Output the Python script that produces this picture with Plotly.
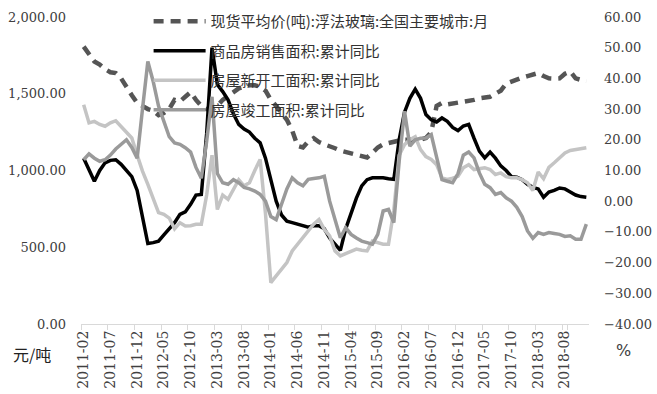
import plotly.graph_objects as go

# Monthly categories 2011-02 .. 2018-12
months = []
for y in range(2011, 2019):
    for m in range(1, 13):
        if y == 2011 and m == 1:
            continue
        months.append(f"{y}-{m:02d}")

tick_labels = months[::5]
left_ticks = [0, 500, 1000, 1500, 2000]
right_ticks = [-40, -30, -20, -10, 0, 10, 20, 30, 40, 50, 60]

# 现货平均价(吨):浮法玻璃:全国主要城市:月  (元/吨, left axis)
price = [1807, 1760, 1710, 1690, 1660, 1640, 1635, 1600, 1540, 1490,
         1440, 1420, 1400, 1390, 1360, 1375, 1400, 1460, 1450, 1480,
         1510, 1460, 1420, 1400, 1395, 1420, 1460, 1485, 1510, 1535,
         1545, 1555, 1555, 1545, 1520, 1460, 1420, 1370, 1330, 1260,
         1160, 1150, 1190, 1210, 1185, 1170, 1160, 1145, 1130, 1120,
         1115, 1105, 1095, 1085, 1115, 1150, 1170, 1180, 1185, 1195,
         1200, 1200, 1195, 1200, 1212, 1250, 1420, 1440, 1430, 1435,
         1440, 1445, 1450, 1460, 1470, 1475, 1480, 1500, 1520, 1565,
         1580, 1595, 1605, 1615, 1625, 1635, 1615, 1600, 1598, 1600,
         1630, 1645, 1600, 1590, 1580]

# 商品房销售面积:累计同比 (%)
sales = [14, 10, 6.5, 10, 12.5, 13.3, 13.5, 12, 10, 8,
         3.5, -5, -13.8, -13.5, -13, -11, -9, -7, -4.3, -3.5,
         -1, 2, 2.2, 22, 50, 38, 35.7, 33, 28.5, 25,
         23.5, 22.5, 20.5, 19, 14, 6.5, 0, -4.5, -6.5, -7,
         -7.5, -8, -8.5, -8, -8, -9, -12, -14, -16, -9,
         -4, 1, 5, 7, 7.6, 7.7, 7.6, 7.3, 7.1, 20,
         29, 33.5, 36.5, 33.5, 28.2, 26.5, 25.8, 27.1, 26, 24,
         23, 24.5, 25, 20.5, 16.3, 14.1, 16, 14, 11.5, 10,
         8, 7.8, 7, 5.5, 4.5, 4, 1.3, 3, 3.5, 4.3,
         4, 3, 2, 1.5, 1.3]

# 房屋新开工面积:累计同比 (%)
new_starts = [31.4, 25.5, 26, 25, 24.4, 25.5, 26.2, 24.4, 22.2, 20.6,
              15, 9.8, 5.5, 1, -3.7, -4.3, -5.5, -9, -7, -8.1,
              -8, -7.5, -7.5, 2, 15, -2.7, 2, 0.6, 3.8, 7,
              5, 6, 10, 13.6, -4, -26.5, -24.3, -22, -20, -16.2,
              -14, -12, -9.7, -7.5, -6, -9.2, -11.3, -16.2, -17.8, -17,
              -16.5, -15.6, -16, -16.2, -13, -13.5, -14, -14, -3, 15,
              18.4, 20, 21, 16.8, 14.5, 13.6, 11.9, 7.6, 7.1, 7.5,
              8.1, 10.9, 11.9, 10.3, 10.6, 10.9, 10.3, 8.7, 9.2, 8,
              7.6, 7.6, 7, 6, 3.5, 9.5, 7.3, 11, 12.5, 14.1,
              15.7, 16.5, 16.8, 17, 17.4]

# 房屋竣工面积:累计同比 (%)
completions = [13.5, 15.4, 14, 13, 13.5, 15, 17, 18.4, 20, 17.5,
               14, 30, 45.5, 39, 31, 26, 21, 19, 18.5, 17.4,
               16, 11, 7.5, 19.5, 34, 9, 6, 5.5, 7, 6,
               4.5, 4, 3.3, 2.2, 0, -5, -6, -1, 4, 7.6,
               6, 5, 7.1, 7.4, 7.6, 8.1, 0, -6, -11.9, -8.6,
               -10.8, -12, -13, -13.5, -14, -10.8, -3.2, -2.7, -7, 13,
               29.3, 17.9, 20, 20.5, 20.6, 21.7, 14.1, 7, 6.5, 6,
               9, 15, 16, 14.1, 9.2, 5.5, 4.4, 2.2, 2.8, 1.1,
               0, -2, -5, -9.7, -12.1, -10.2, -10.8, -10.2, -10.5, -10.8,
               -11.5, -11.3, -12.4, -12.4, -7.5]

names = ["现货平均价(吨):浮法玻璃:全国主要城市:月",
         "商品房销售面积:累计同比",
         "房屋新开工面积:累计同比",
         "房屋竣工面积:累计同比"]

fig = go.Figure()
fig.add_trace(go.Scatter(x=months, y=price, name=names[0], mode="lines",
                         line=dict(color="#555555", width=4.5, dash="10px,7px"),
                         legendgroup="a", yaxis="y"))
fig.add_trace(go.Scatter(x=months, y=sales, name=names[1], mode="lines",
                         line=dict(color="#000000", width=3.5),
                         legendgroup="b", yaxis="y2"))
fig.add_trace(go.Scatter(x=months, y=new_starts, name=names[2], mode="lines",
                         line=dict(color="#c4c4c4", width=3.5),
                         legendgroup="c", yaxis="y2"))
fig.add_trace(go.Scatter(x=months, y=completions, name=names[3], mode="lines",
                         line=dict(color="#9a9a9a", width=3.5),
                         legendgroup="d", yaxis="y2"))

tick_font = dict(family="DejaVu Serif", size=13, color="#404040")

# plot area extends 12px above the top tick (2000 / 60) so the legend sits inside it
TOP_T, BOT_B = 5, 69
inner_h = 394 - TOP_T - BOT_B          # 320
tick_span = inner_h - 12               # 308 px between bottom and top ticks
left_top = 2000 * inner_h / tick_span
right_top = -40 + 100 * inner_h / tick_span

fig.update_layout(
    width=657, height=394,
    margin=dict(l=81, r=65, t=TOP_T, b=BOT_B, pad=0),
    paper_bgcolor="white", plot_bgcolor="white",
    showlegend=True,
    legend=dict(x=(149 - 81) / 511, y=1.0, xanchor="left", yanchor="top",
                bgcolor="rgba(0,0,0,0)", borderwidth=0,
                font=dict(family="Noto Sans CJK SC", size=15, color="#333333"),
                itemwidth=52, tracegroupgap=7, traceorder="grouped"),
    xaxis=dict(type="category", range=[-0.5, len(months) - 0.5],
               tickmode="array", tickvals=tick_labels, ticktext=tick_labels,
               tickangle=-90, tickson="boundaries",
               ticks="outside", ticklen=5, tickcolor="#d9d9d9",
               showline=True, linecolor="#d9d9d9", linewidth=1,
               showgrid=False, zeroline=False,
               tickfont=dict(family="DejaVu Serif", size=14, color="#404040")),
    yaxis=dict(range=[0, left_top], tickmode="array", tickvals=left_ticks,
               tickformat=",.2f", showgrid=False, zeroline=False,
               showline=False, ticks="", tickfont=tick_font,
               ticklabelstandoff=14),
    yaxis2=dict(range=[-40, right_top], tickmode="array", tickvals=right_ticks,
                tickformat=".2f", overlaying="y", side="right",
                showgrid=False, zeroline=False, showline=False, ticks="",
                tickfont=tick_font, ticklabelstandoff=14),
    annotations=[
        dict(text="元/吨", xref="paper", yref="paper",
             x=(32 - 81) / 511, y=-30 / inner_h,
             xanchor="center", yanchor="middle", showarrow=False,
             font=dict(family="Noto Sans CJK SC", size=16, color="#222222")),
        dict(text="%", xref="paper", yref="paper",
             x=(627 - 81) / 511, y=-27 / inner_h,
             xanchor="center", yanchor="middle", showarrow=False,
             font=dict(family="DejaVu Sans", size=16, color="#404040")),
    ],
)

fig.write_html("out.html", config={"displayModeBar": False},
               post_script="document.body.style.margin='0px';document.body.style.overflow='hidden';")
